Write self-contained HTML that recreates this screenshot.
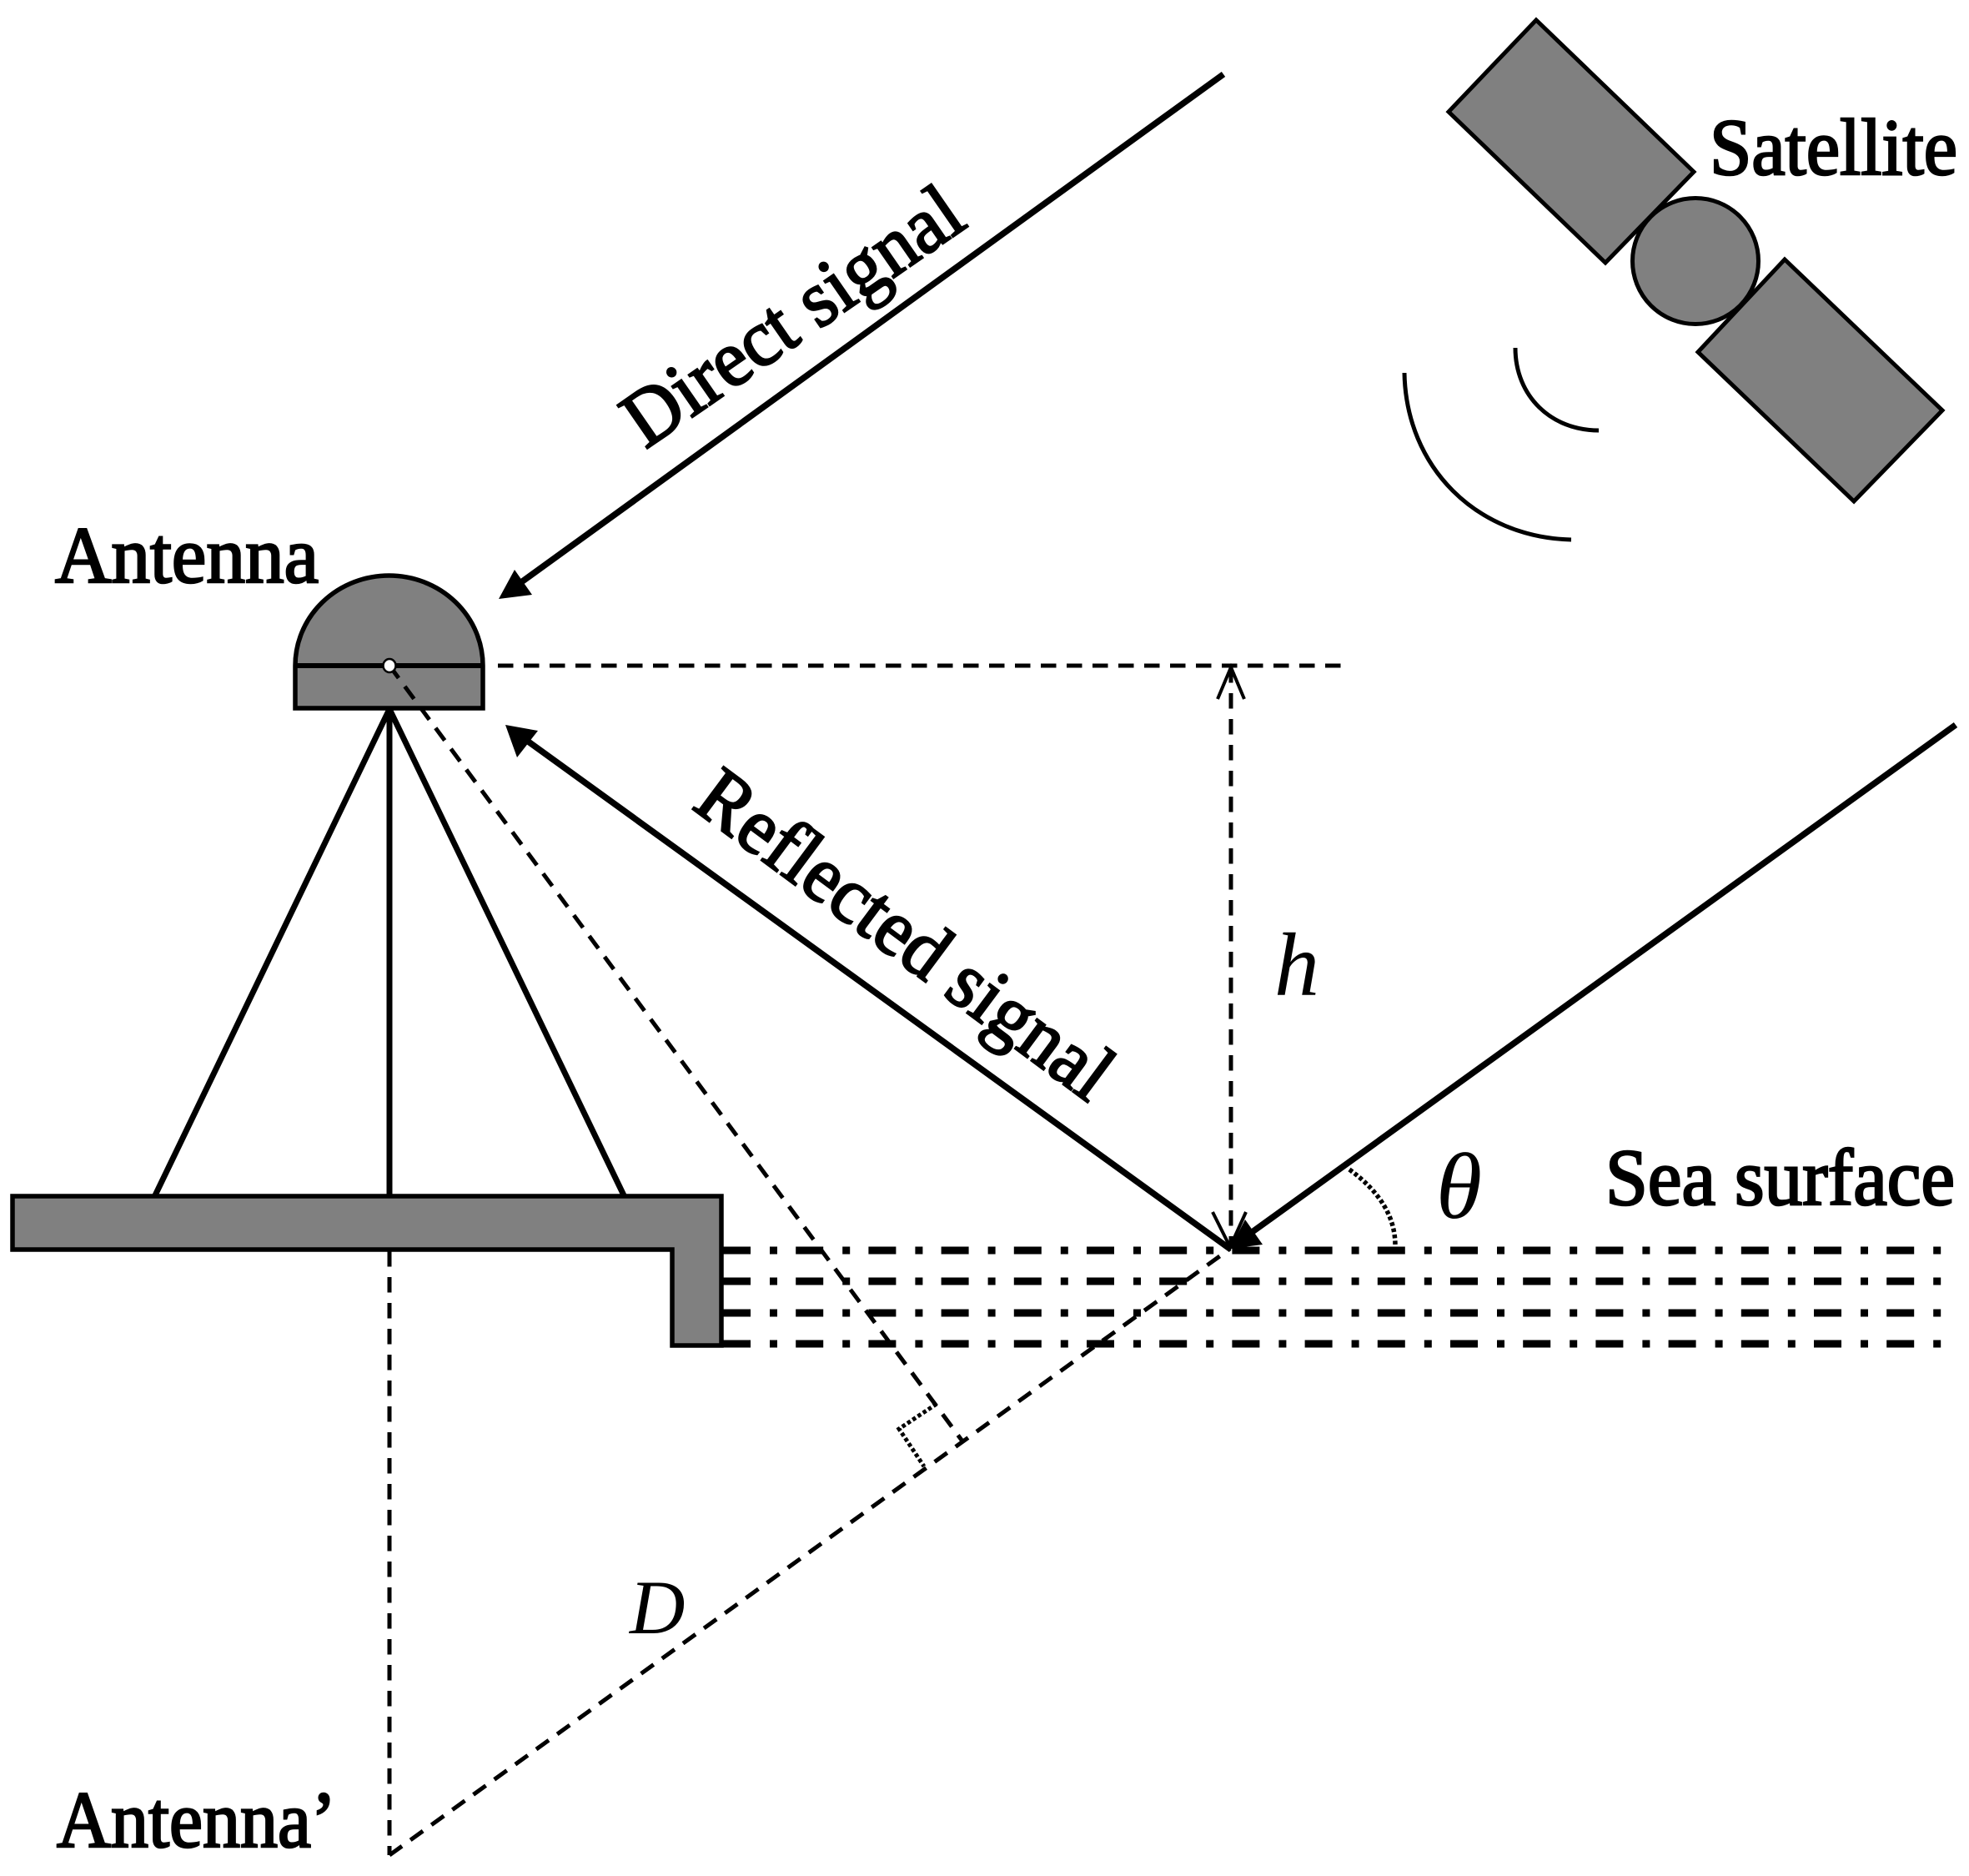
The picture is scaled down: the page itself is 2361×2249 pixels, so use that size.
<!DOCTYPE html>
<html><head><meta charset="utf-8"><style>html,body{margin:0;padding:0;background:#fff}svg{display:block}
text{font-family:"Liberation Serif",serif;fill:#000;stroke:#000;stroke-width:2.6px}</style></head>
<body>
<svg width="2361" height="2249" viewBox="0 0 2361 2249" xmlns="http://www.w3.org/2000/svg">
<rect width="2361" height="2249" fill="#fff"/>
<!-- satellite -->
<g fill="#808080" stroke="#000" stroke-width="5" stroke-linejoin="miter">
<polygon points="1842,24 2031,206 1925,315 1737,134"/>
<polygon points="2140,311 2329,492 2223,601 2036,422"/>
<circle cx="2033" cy="313" r="75.5"/>
</g>
<g fill="none" stroke="#000" stroke-width="5">
<path d="M1817,417 C1817,475 1860,516 1917,516"/>
<path d="M1684,447 C1686,560 1770,644 1884,647"/>
</g>
<!-- antenna -->
<path d="M354,798 A112.5,108 0 0 1 579,798 V849 H354 Z" fill="#808080" stroke="#000" stroke-width="5.5"/>
<line x1="354" y1="798" x2="579" y2="798" stroke="#000" stroke-width="6"/>
<!-- tripod -->
<g stroke="#000" stroke-width="7" fill="none">
<line x1="467" y1="850" x2="186" y2="1433"/>
<line x1="467" y1="850" x2="467" y2="1433"/>
<line x1="467" y1="850" x2="748" y2="1433"/>
</g>
<!-- platform -->
<path d="M15,1434 H865 V1613 H806 V1498 H15 Z" fill="#808080" stroke="#000" stroke-width="5.5"/>
<!-- sea lines -->
<g stroke="#000" stroke-width="9" fill="none" stroke-dasharray="33 23 9 22.2">
<line x1="867" y1="1499" x2="2331" y2="1499"/>
<line x1="867" y1="1536" x2="2331" y2="1536"/>
<line x1="867" y1="1574" x2="2331" y2="1574"/>
<line x1="867" y1="1611" x2="2331" y2="1611"/>
</g>
<!-- dashed -->
<g stroke="#000" stroke-width="5" fill="none" stroke-dasharray="18.5 12.5">
<line x1="597" y1="798" x2="1608" y2="798"/>
<line x1="1476" y1="800" x2="1476" y2="1497"/>
<line x1="467" y1="1500" x2="467" y2="2224"/>
<line x1="467" y1="2224" x2="1475" y2="1497"/>
<line x1="467" y1="798" x2="1155" y2="1729"/>
</g>
<!-- right angle -->
<path d="M1123,1683 L1078,1713 L1108,1758" fill="none" stroke="#000" stroke-width="5" stroke-dasharray="4.5 3"/>
<!-- theta arc -->
<path d="M1618,1402 Q1673,1442 1673,1493" fill="none" stroke="#000" stroke-width="5.5" stroke-dasharray="4.5 3"/>
<!-- h arrowheads -->
<g fill="none" stroke="#000" stroke-width="4">
<path d="M1460,838 L1476,800 L1492,838"/>
<path d="M1454,1453 L1475,1495 L1494,1453"/>
</g>
<!-- signals -->
<g stroke="#000" stroke-width="7.5" fill="none">
<line x1="1467" y1="89" x2="625" y2="698"/>
<line x1="1476" y1="1498" x2="632" y2="888"/>
<line x1="2345" y1="869" x2="1500" y2="1478"/>
</g>
<g fill="#000">
<polygon points="598,718 617,683 638,713"/>
<polygon points="606,869 645,876 620,908"/>
<polygon points="1475,1497 1493,1462 1514,1492"/>
</g>
<!-- antenna dot -->
<ellipse cx="467" cy="798" rx="7.5" ry="8" fill="#fff" stroke="#000" stroke-width="2.5"/>
<!-- labels -->
<text x="66" y="698" font-size="96" textLength="316" lengthAdjust="spacingAndGlyphs">Antenna</text>
<text x="68" y="2214" font-size="96" textLength="335" lengthAdjust="spacingAndGlyphs">Antenna’</text>
<text x="2050" y="209" font-size="96" textLength="297" lengthAdjust="spacingAndGlyphs">Satellite</text>
<text x="1925" y="1444" font-size="96" textLength="419" lengthAdjust="spacingAndGlyphs">Sea surface</text>
<text transform="translate(774,539) rotate(-34.7)" font-size="96" textLength="472" lengthAdjust="spacingAndGlyphs">Direct signal</text>
<text transform="translate(828,968) rotate(36.6)" font-size="96" textLength="595" lengthAdjust="spacingAndGlyphs">Reflected signal</text>
<text x="1528" y="1193" font-size="108" font-style="italic" style="stroke-width:0">h</text>
<text x="1722" y="1460" font-size="112" font-style="italic" style="stroke-width:0">θ</text>
<text x="755" y="1958" font-size="92" font-style="italic" style="stroke-width:0">D</text>
</svg>
</body></html>
